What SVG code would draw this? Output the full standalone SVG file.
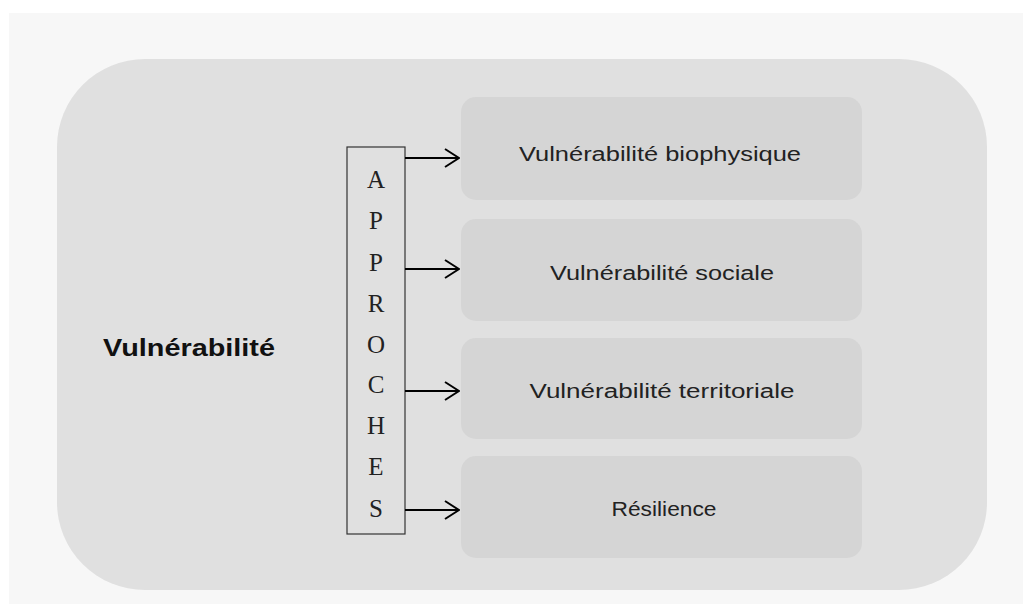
<svg xmlns="http://www.w3.org/2000/svg" width="1023" height="604" viewBox="0 0 1023 604">
<defs>
<style>
.box{fill:#d5d5d5}
.lbl{font-family:"Liberation Sans",Arial,sans-serif;font-size:20px;fill:#222;text-anchor:middle}
.let{font-family:"Liberation Serif","Times New Roman",serif;font-size:25px;fill:#222;text-anchor:middle}
.conn{stroke:#000;stroke-width:2;fill:none}
</style>
<marker id="arr" viewBox="0 0 16 20" refX="15" refY="10" markerWidth="16" markerHeight="20" markerUnits="userSpaceOnUse" orient="auto">
<path d="M1,1 L15,10 L1,19" fill="none" stroke="#000" stroke-width="2"/>
</marker>
</defs>
<rect width="1023" height="604" fill="#ffffff"/>
<rect x="9" y="13" width="1014" height="591" fill="#f7f7f7"/>
<g id="main">
<rect x="57" y="59" width="930" height="531" rx="88" ry="88" fill="#e0e0e0"/>
<text x="189" y="356" font-family="Liberation Sans,Arial,sans-serif" font-weight="bold" font-size="23" fill="#111" text-anchor="middle" textLength="172" lengthAdjust="spacingAndGlyphs">Vulnérabilité</text>
</g>
<g id="approches">
<rect x="347" y="147" width="58" height="387" fill="#e0e0e0" stroke="#333" stroke-width="1.2"/>
<text class="let" x="376" y="188">A</text>
<text class="let" x="376" y="229">P</text>
<text class="let" x="376" y="271">P</text>
<text class="let" x="376" y="312">R</text>
<text class="let" x="376" y="353">O</text>
<text class="let" x="376" y="393">C</text>
<text class="let" x="376" y="434">H</text>
<text class="let" x="376" y="475">E</text>
<text class="let" x="376" y="517">S</text>
</g>
<g id="n1">
<rect class="box" x="461" y="97" width="401" height="103" rx="15"/>
<text class="lbl" x="660" y="161" textLength="282" lengthAdjust="spacingAndGlyphs">Vulnérabilité biophysique</text>
</g>
<g id="n2">
<rect class="box" x="461" y="219" width="401" height="102" rx="15"/>
<text class="lbl" x="662" y="280" textLength="224" lengthAdjust="spacingAndGlyphs">Vulnérabilité sociale</text>
</g>
<g id="n3">
<rect class="box" x="461" y="338" width="401" height="101" rx="15"/>
<text class="lbl" x="662" y="398" textLength="265" lengthAdjust="spacingAndGlyphs">Vulnérabilité territoriale</text>
</g>
<g id="n4">
<rect class="box" x="461" y="456" width="401" height="102" rx="15"/>
<text class="lbl" x="664" y="516" textLength="105" lengthAdjust="spacingAndGlyphs">Résilience</text>
</g>
<g id="connectors">
<line class="conn" x1="405" y1="158" x2="459" y2="158" marker-end="url(#arr)"/>
<line class="conn" x1="405" y1="269" x2="459" y2="269" marker-end="url(#arr)"/>
<line class="conn" x1="405" y1="391" x2="459" y2="391" marker-end="url(#arr)"/>
<line class="conn" x1="405" y1="510" x2="459" y2="510" marker-end="url(#arr)"/>
</g>
</svg>
